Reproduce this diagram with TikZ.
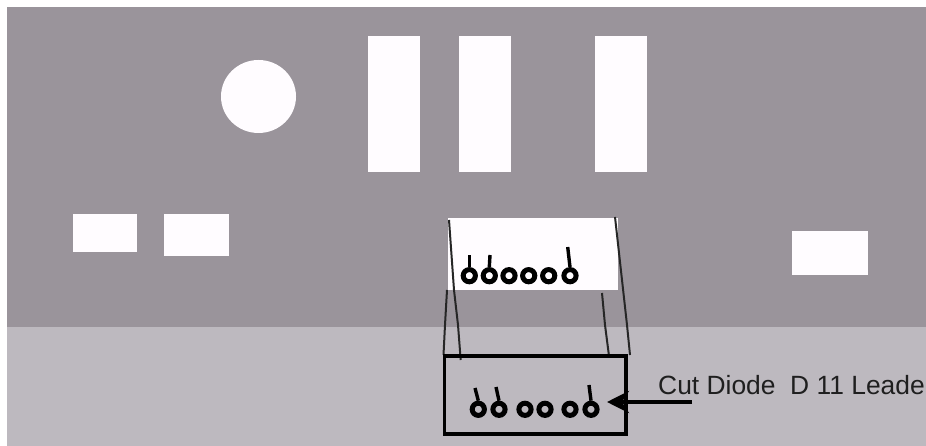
\documentclass[tikz,border=0pt]{standalone}
\usepackage{fontspec}
\setmainfont{Liberation Sans}
\usetikzlibrary{arrows.meta}
\definecolor{boarddark}{HTML}{9A949B}
\definecolor{boardlight}{HTML}{BDB9BF}
\definecolor{cutout}{HTML}{FFFCFF}
\tikzset{
  cutoutshape/.style={fill=cutout,draw=none},
  leadwire/.style={line width=3.4pt,black},
  pad/.style={circle,draw=black,line width=5pt,minimum size=12.2pt,inner sep=0pt,fill=none},
  viewline/.style={line width=2pt,black!85},
  labeltext/.style={font=\fontsize{26.4}{30}\selectfont,anchor=base west,inner sep=0pt,text=black!88},
  pointer/.style={line width=3.8pt,black,-{Stealth[length=22pt,width=22pt]}}
}
\begin{document}
\begin{tikzpicture}[x=1pt,y=-1pt]
\useasboundingbox (0,0) rectangle (926,446);
\fill[white] (0,0) rectangle (926,446);
\fill[boarddark] (7,7) rectangle (926,327);
\fill[boardlight] (7,327) rectangle (926,446);
% cut-outs
\fill[cutoutshape] (258.5,96.5) ellipse [x radius=37.5,y radius=36.5];
\fill[cutoutshape] (368,36) rectangle (420,172);
\fill[cutoutshape] (459,36) rectangle (511,172);
\fill[cutoutshape] (595,36) rectangle (647,172);
\fill[cutoutshape] (73,214) rectangle (137,252);
\fill[cutoutshape] (164,214) rectangle (229,256);
\fill[cutoutshape] (792,231) rectangle (868,275);
\fill[cutoutshape] (448,218) rectangle (618,290);
% projection lines
\draw[viewline] (449,220) -- (454,290) -- (458,325) -- (460.7,360);
\draw[viewline] (447,290) -- (445,325) -- (443.5,355);
\draw[viewline] (615,217) -- (627,325) -- (630,355);
\draw[viewline] (602,293) -- (605,325) -- (609,356);
% lower frame
\draw[line width=3.6pt,black] (444.3,355.7) rectangle (626,434);
% upper pads
\foreach \n/\x in {a/469.3,b/489.3,c/509,d/528.7,e/548.7,f/570}
  \node[pad] (u\n) at (\x,275.7) {};
\draw[leadwire] (ua.north) -- (469.3,255);
\draw[leadwire] (ub.north) -- (490,255);
\draw[leadwire] (uf.north) -- (567.7,247);
% lower pads
\foreach \n/\x in {a/478.3,b/499,c/525,d/545,e/570,f/591}
  \node[pad] (l\n) at (\x,409.3) {};
\draw[leadwire] (la.north) -- (475,388);
\draw[leadwire] (lb.north) -- (496,387);
\draw[leadwire] (lf.north) -- (589,385);
% arrow and label
\coordinate (tailpt) at (692,402);
\coordinate (tippt) at (607,402);
\draw[pointer] (tailpt) -- (tippt);
\node[labeltext] (cutlabel) at (658,394) {Cut Diode\ \ D 11 Leade};
\end{tikzpicture}
\end{document}
